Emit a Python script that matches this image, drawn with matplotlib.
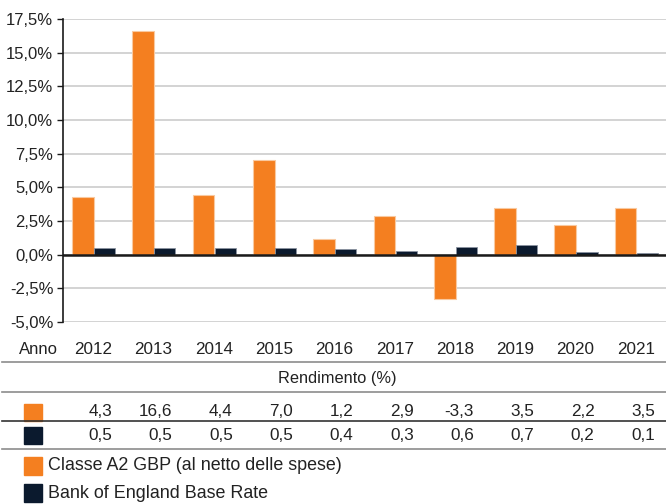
import matplotlib.pyplot as plt
from matplotlib.lines import Line2D
from matplotlib.transforms import blended_transform_factory
import numpy as np

plt.rcParams['font.family'] = ['Liberation Sans', 'DejaVu Sans']

anni = ['2012', '2013', '2014', '2015', '2016', '2017', '2018', '2019', '2020', '2021']
classe_a2 = [4.3, 16.6, 4.4, 7.0, 1.2, 2.9, -3.3, 3.5, 2.2, 3.5]
boe_rate = [0.5, 0.5, 0.5, 0.5, 0.4, 0.3, 0.6, 0.7, 0.2, 0.1]
nome_a2 = 'Classe A2 GBP (al netto delle spese)'
nome_boe = 'Bank of England Base Rate'
y_ticks = [-5.0, -2.5, 0.0, 2.5, 5.0, 7.5, 10.0, 12.5, 15.0, 17.5]

ORANGE = '#F47F20'
NAVY = '#0B1A2E'
W, H = 666, 504

fig = plt.figure(figsize=(W / 100, H / 100), dpi=100)
# axes box in pixels: left 63, right 666, top 19, bottom 322
ax = fig.add_axes([63 / W, (H - 322) / H, (W - 63) / W, (322 - 19) / H])

x = np.arange(len(anni))
ax.bar(x - 0.17, classe_a2, width=0.36, color=ORANGE, edgecolor='#F9C9A0', linewidth=0.8, zorder=3)
ax.bar(x + 0.19, boe_rate, width=0.35, color=NAVY, edgecolor='#8A93A0', linewidth=0.6, zorder=3)

ax.set_xlim(-0.5, len(anni) - 0.5)
ax.set_ylim(-5.0, 17.5)
ax.set_yticks(y_ticks)
ax.set_yticklabels([f'{v:.1f}%'.replace('.', ',') for v in y_ticks], fontsize=12, color='#222222')
ax.set_xticks([])
ax.grid(axis='y', color='#CCCCCC', linewidth=1.2, zorder=0)
ax.axhline(0, color='#1A1A1A', linewidth=1.8, zorder=4)
for s in ['top', 'right', 'bottom']:
    ax.spines[s].set_visible(False)
ax.spines['left'].set_color('#1A1A1A')
ax.spines['left'].set_linewidth(1.2)
ax.tick_params(axis='y', length=4, width=1, color='#1A1A1A', pad=3)

# table below the axes
tr = blended_transform_factory(ax.transData, fig.transFigure)
off = 19 / 60.3  # right edge of the numbers relative to category centre


def fy(py):
    return 1 - py / H


def hline(py, color, lw):
    fig.add_artist(Line2D([2 / W, 1], [fy(py), fy(py)], transform=fig.transFigure,
                          color=color, linewidth=lw))


fig.text(19 / W, fy(349), 'Anno', fontsize=12, va='center', ha='left', color='#222222')
for i, a in enumerate(anni):
    ax.text(i + off, fy(349), a, transform=tr, fontsize=12.3, ha='right', va='center',
            color='#222222', clip_on=False)
hline(362, '#8C8C8C', 1.2)
fig.text(337 / W, fy(379), 'Rendimento (%)', fontsize=11.8, ha='center', va='center', color='#222222')
hline(392, '#8C8C8C', 1.2)


def riga(vals, color, py):
    fig.add_artist(plt.Rectangle((24 / W, fy(py + 8.5)), 18 / W, 17 / H, transform=fig.transFigure,
                                 color=color))
    for i, v in enumerate(vals):
        ax.text(i + off, fy(py), f'{v:.1f}'.replace('.', ','), transform=tr, fontsize=12.3,
                ha='right', va='center', color='#222222', clip_on=False)


riga(classe_a2, ORANGE, 412)
hline(421, '#333333', 1.2)
riga(boe_rate, NAVY, 435)
hline(449, '#8C8C8C', 1.2)

# legend
for nome, color, py in [(nome_a2, ORANGE, 466), (nome_boe, NAVY, 493)]:
    fig.add_artist(plt.Rectangle((24 / W, fy(py + 9)), 18 / W, 18 / H, transform=fig.transFigure,
                                 color=color))
    fig.text(48 / W, fy(py), nome, fontsize=12.9, ha='left', va='center', color='#222222')

fig.savefig('out.png', dpi=100)
